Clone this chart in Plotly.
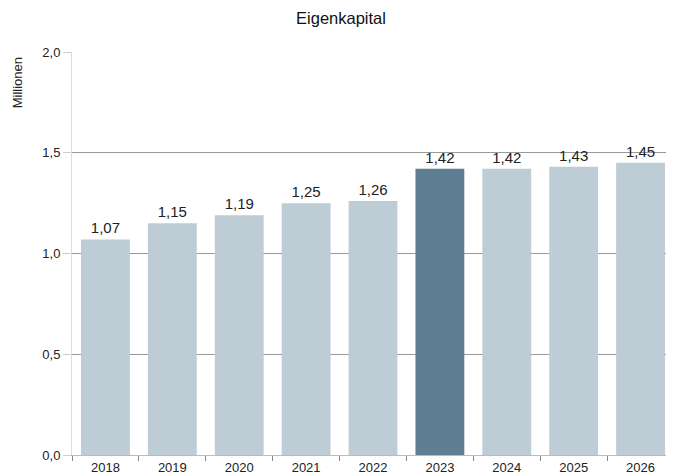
import plotly.graph_objects as go

years = ["2018", "2019", "2020", "2021", "2022", "2023", "2024", "2025", "2026"]
equity = [1.07, 1.15, 1.19, 1.25, 1.26, 1.42, 1.42, 1.43, 1.45]
highlight_year = "2023"

LIGHT = "#BECCD5"
DARK = "#5F7E92"
FONT = "Liberation Sans, Arial, sans-serif"

colors = [DARK if y == highlight_year else LIGHT for y in years]
labels = [f"{v:.2f}".replace(".", ",") for v in equity]

fig = go.Figure(go.Bar(
    x=years,
    y=equity,
    marker=dict(color=colors, line=dict(width=0)),
    text=labels,
    textposition="outside",
    textfont=dict(size=15, color="#222222"),
    cliponaxis=False,
))

# the page body has an 8px margin, so the figure is sized to fit the window
fig.update_layout(
    width=666,
    height=468,
    title=dict(text="Eigenkapital", x=0.5, xanchor="center", y=0.979, yanchor="middle",
               font=dict(size=16.5, color="#111111")),
    font=dict(family=FONT, color="#222222"),
    paper_bgcolor="white",
    plot_bgcolor="white",
    margin=dict(l=64, r=0, t=44, b=21),
    bargap=0.27,
    showlegend=False,
    annotations=[dict(
        text="Millionen", textangle=-90, showarrow=False,
        xref="paper", yref="paper", x=-0.0914, y=0.993,
        xanchor="center", yanchor="top", font=dict(size=13, color="#222222"),
    )],
)

fig.update_xaxes(
    type="category",
    tickson="boundaries",
    ticks="outside",
    ticklen=5,
    tickcolor="#888888",
    showline=True,
    linecolor="#BBBBBB",
    tickfont=dict(size=13),
    showgrid=False,
)

fig.update_yaxes(
    range=[0, 2.0],
    tickvals=[0, 0.5, 1.0, 1.5, 2.0],
    ticktext=["0,0", "0,5", "1,0", "1,5", "2,0"],
    showgrid=True,
    gridcolor="#999999",
    gridwidth=1,
    ticks="outside",
    ticklen=8,
    tickcolor="#CCCCCC",
    showline=True,
    linecolor="#DDDDDD",
    zeroline=False,
    tickfont=dict(size=13),
)

fig.write_html("out.html")
